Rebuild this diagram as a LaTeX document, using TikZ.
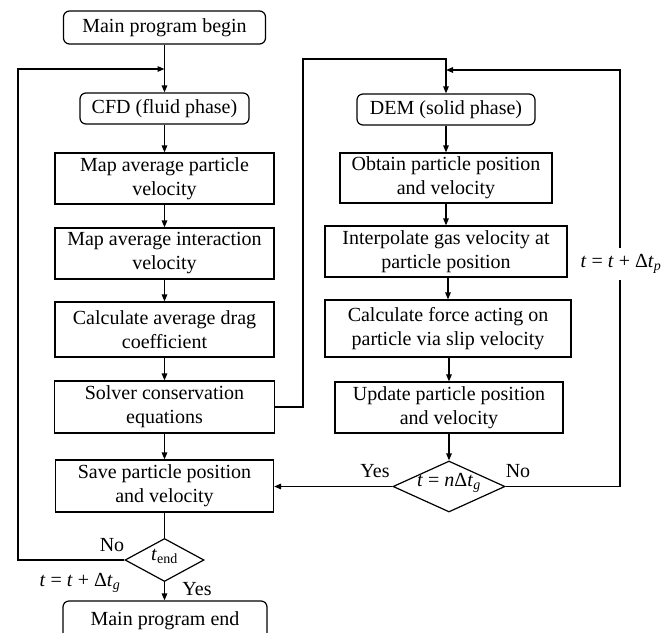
\documentclass[tikz,border=0pt]{standalone}
\usepackage{fontspec}
\setmainfont{Liberation Serif}
\usetikzlibrary{arrows.meta,shapes.geometric}
\begin{document}
\begin{tikzpicture}[x=1pt,y=-1pt,
  font=\fontsize{20}{24}\selectfont,
  box/.style={draw, line width=1.2pt, inner sep=0pt, align=center},
  rbox/.style={box, rounded corners=6pt},
  dia/.style={draw, diamond, line width=1.2pt, inner sep=0pt},
  conn/.style={line width=1.4pt},
  arr/.style={conn, -{Triangle[length=7pt,width=5.5pt]}},
  lbl/.style={inner sep=1pt}]
\useasboundingbox (0,0) rectangle (669,632);

% left column
\node[rbox, minimum width=202pt, minimum height=33pt] (begin) at (164.5,27.5) {Main program begin};
\node[rbox, minimum width=169pt, minimum height=31pt] (cfd) at (164.5,108.5) {CFD (fluid phase)};
\node[box, minimum width=219pt, minimum height=51pt] (m1) at (164.5,178.5) {Map average particle\\velocity};
\node[box, minimum width=219pt, minimum height=51pt] (m2) at (164.5,253.5) {Map average interaction\\velocity};
\node[box, minimum width=219pt, minimum height=55pt] (m3) at (164.5,329.5) {Calculate average drag\\coefficient};
\node[box, minimum width=220pt, minimum height=52pt] (solver) at (164.5,407) {Solver conservation\\equations};
\node[box, minimum width=218pt, minimum height=52pt] (save) at (164.5,486) {Save particle position\\and velocity};
\node[dia, minimum width=79pt, minimum height=43pt] (tend) at (164.5,560) {\makebox[0pt]{\smash{\textit{t}\textsubscript{end}}}};
\node[rbox, minimum width=204pt, minimum height=41pt] (end) at (165,621.5) {\raisebox{6pt}{Main program end}};

% right column
\node[rbox, minimum width=178pt, minimum height=31pt] (dem) at (446,109.5) {DEM (solid phase)};
\node[box, minimum width=212pt, minimum height=50pt] (o1) at (446,178) {Obtain particle position\\and velocity};
\node[box, minimum width=242pt, minimum height=51pt] (o2) at (446,251.5) {Interpolate gas velocity at\\particle position};
\node[box, minimum width=246pt, minimum height=57pt] (o3) at (448,328.5) {Calculate force acting on\\particle via slip velocity};
\node[box, minimum width=228pt, minimum height=51pt] (upd) at (449,407.5) {Update particle position\\and velocity};
\node[dia, minimum width=112pt, minimum height=51pt] (ndt) at (449,486.5) {\makebox[0pt]{\smash{\textit{t} = \textit{n}Δ\textit{t}\textsubscript{\textit{g}}}}};

% coordinates
\coordinate (lx) at (18,69);
\coordinate (ltop) at (164.5,69);
\coordinate (sx) at (303,59);
\coordinate (stop) at (446,59);
\coordinate (rx) at (620,70);
\coordinate (rtop) at (446,70);

% left connectors
\draw[arr] (begin.south) -- (cfd.north);
\draw[arr] (cfd.south) -- (m1.north);
\draw[arr] (m1.south) -- (m2.north);
\draw[arr] (m2.south) -- (m3.north);
\draw[arr] (m3.south) -- (solver.north);
\draw[arr] (solver.south) -- (save.north);
\draw[conn] (save.south) -- (tend.north);
\draw[arr] (tend.south) -- (tend.south |- end.north);
\draw[arr] (tend.west) -| (lx) -- (ltop);

% cross connector
\draw[arr] (solver.east) -| (sx) -- (stop) -- (dem.north);

% right connectors
\draw[arr] (dem.south) -- (o1.north);
\draw[arr] (o1.south) -- (o1.south |- o2.north);
\draw[arr] (o2.south) -- (o2.south -| o3.north) -- (o3.north);
\draw[arr] (o3.south) -- (o3.south -| upd.north) -- (upd.north);
\draw[arr] (upd.south) -- (ndt.north);
\draw[arr] (ndt.west) -- (ndt.west -| save.east);
\draw[arr] (ndt.east) -| (rx) -- (rtop);

% labels
\node[lbl, fill=white, inner ysep=6pt] (lp) at (621,264) {\textit{t} = \textit{t} + Δ\textit{t}\textsubscript{\textit{p}}};
\node[lbl] (lno) at (112,545) {No};
\node[lbl] (lg) at (80,583) {\textit{t} = \textit{t} + Δ\textit{t}\textsubscript{\textit{g}}};
\node[lbl] (lyes) at (197,589) {Yes};
\node[lbl] (ryes) at (375,471) {Yes};
\node[lbl] (rno) at (518,471) {No};
\end{tikzpicture}
\end{document}
